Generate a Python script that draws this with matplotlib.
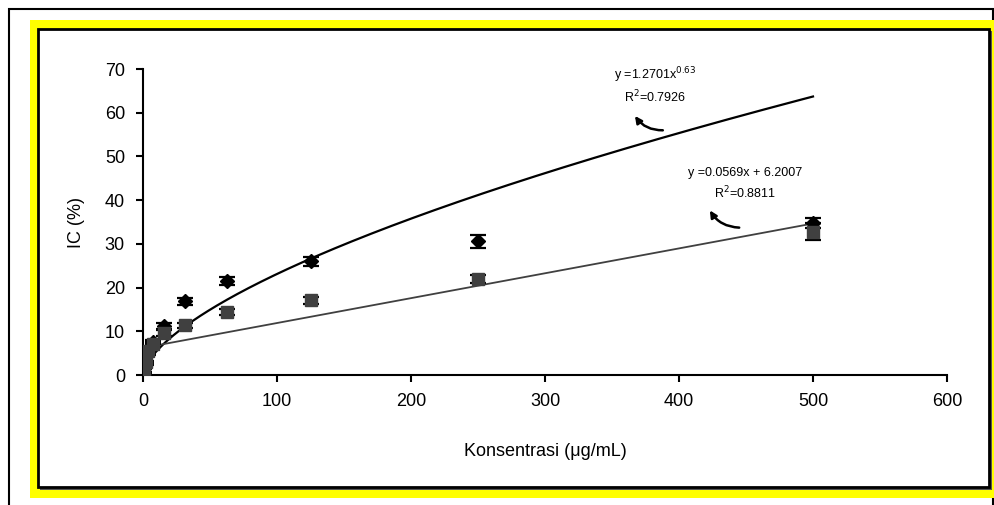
import numpy as np
import matplotlib.pyplot as plt
from matplotlib.patches import Rectangle

plt.rcParams['font.family'] = ['Liberation Sans', 'DejaVu Sans']

# data
konsentrasi = [0.98, 1.95, 3.9, 7.8, 15.6, 31.25, 62.5, 125, 250, 500]
ic_diamond = [0.4, 2.5, 5.0, 7.5, 11.2, 16.9, 21.6, 26.0, 30.6, 34.8]
err_diamond = [0.3, 0.3, 0.4, 0.5, 0.7, 0.8, 0.9, 1.0, 1.5, 1.2]
ic_square = [1.0, 3.0, 5.5, 7.0, 9.6, 11.4, 14.4, 17.1, 21.9, 32.8]
err_square = [0.3, 0.3, 0.4, 0.5, 0.6, 0.6, 0.7, 0.8, 0.9, 2.0]

# trendline coefficients shown on the chart
pow_a, pow_b, pow_r2 = 1.2701, 0.63, 0.7926
lin_m, lin_c, lin_r2 = 0.0569, 6.2007, 0.8811

W, H = 994, 505
fig = plt.figure(figsize=(W / 100, H / 100), dpi=100)

def px_rect(x0, y0, x1, y1, z, **kw):
    # rectangle in pixel coordinates (top-left origin)
    r = Rectangle((x0 / W, 1 - y1 / H), (x1 - x0) / W, (y1 - y0) / H,
                  transform=fig.transFigure, zorder=z, **kw)
    fig.add_artist(r)

# frames
px_rect(9, 9, 993, 530, -4, facecolor='white', edgecolor='black', lw=1.5)
px_rect(30, 20, 1000, 498, -3, facecolor='#FFFF00', edgecolor='none')
px_rect(40, 31, 992, 490, -2, facecolor='#555555', edgecolor='none')
px_rect(38, 29, 989, 487, -1, facecolor='white', edgecolor='black', lw=2)

ax = fig.add_axes([143 / W, 1 - 375 / H, (947 - 143) / W, (375 - 69) / H])
ax.set_zorder(5)
ax.patch.set_alpha(0)

# trendlines
xp = np.linspace(0.3, 500, 600)
ax.plot(xp, pow_a * xp ** pow_b, color='black', lw=1.6, zorder=2)
xl = np.array([0, 500])
ax.plot(xl, lin_m * xl + lin_c, color='#404040', lw=1.3, zorder=2)

# data with error bars
ax.errorbar(konsentrasi, ic_diamond, yerr=err_diamond, fmt='D', color='black',
            markersize=7.5, capsize=5.5, capthick=1.6, elinewidth=1.6, zorder=3)
ax.errorbar(konsentrasi, ic_square, yerr=err_square, fmt='s', color='#404040',
            mec='#404040', ecolor='black', markersize=8.5, capsize=5.5, capthick=1.6,
            elinewidth=1.6, zorder=4)

ax.set_xlim(0, 600)
ax.set_ylim(0, 70)
ax.set_xticks(range(0, 601, 100))
ax.set_yticks(range(0, 71, 10))
for s in ['top', 'right']:
    ax.spines[s].set_visible(False)
ax.spines['left'].set_linewidth(1.5)
ax.spines['bottom'].set_linewidth(1.5)
ax.tick_params(direction='out', length=5, width=1.5, labelsize=13)
ax.tick_params(axis='x', pad=8)
ax.tick_params(axis='y', pad=8)
for sp in ax.spines.values():
    sp.set_clip_on(False)

ax.set_xlabel('Konsentrasi (\u03bcg/mL)', fontsize=13, labelpad=24)
ax.set_ylabel('IC (%)', fontsize=13, labelpad=14)

# equations
ax.text(382, 68.6, 'y =%.4fx$^{%s}$' % (pow_a, pow_b), fontsize=9, ha='center', va='center')
ax.text(382, 63.6, 'R$^2$=%.4f' % pow_r2, fontsize=9, ha='center', va='center')
ax.text(449, 46.3, 'y =%.4fx + %.4f' % (lin_m, lin_c), fontsize=9, ha='center', va='center')
ax.text(449, 41.7, 'R$^2$=%.4f' % lin_r2, fontsize=9, ha='center', va='center')

# curved arrows
ax.annotate('', xy=(366, 59.8), xytext=(390, 56.0),
            arrowprops=dict(arrowstyle='-|>', color='black', lw=1.8,
                            connectionstyle='arc3,rad=-0.3', mutation_scale=10))
ax.annotate('', xy=(422, 38.2), xytext=(447, 33.7),
            arrowprops=dict(arrowstyle='-|>', color='black', lw=1.8,
                            connectionstyle='arc3,rad=-0.3', mutation_scale=10))

fig.savefig('out.png', dpi=100)
